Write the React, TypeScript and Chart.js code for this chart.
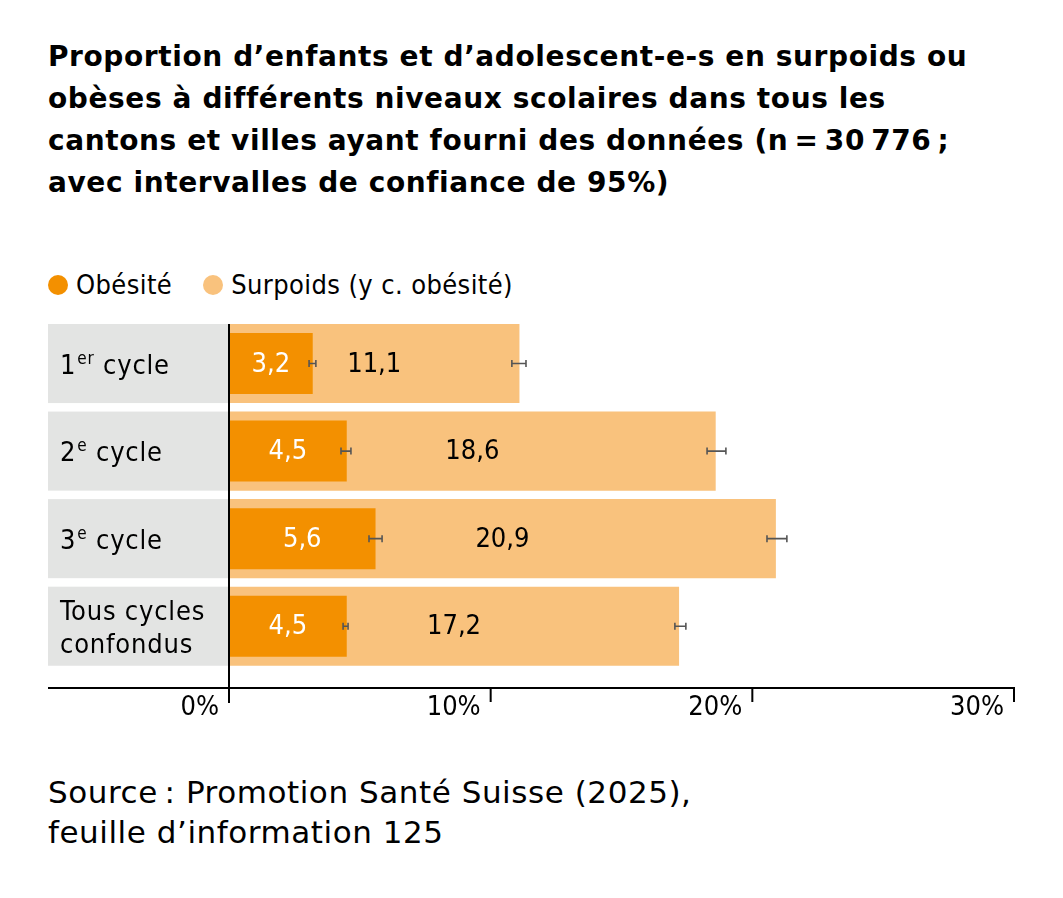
import React, { useEffect, useRef } from "react";
import { Chart, registerables } from "chart.js";

Chart.register(...registerables);

// ---------- data ----------
const categories = ["1er cycle", "2e cycle", "3e cycle", "Tous cycles confondus"];
// label segments: "^" prefix = superscript; each inner array = one line
const categoryLabels: string[][][] = [
  [["1", "^er", " cycle"]],
  [["2", "^e", " cycle"]],
  [["3", "^e", " cycle"]],
  [["Tous cycles"], ["confondus"]],
];
const obesity = [3.2, 4.5, 5.6, 4.5];
const overweight = [11.1, 18.6, 20.9, 17.2];
const obesityLow = [3.06, 4.28, 5.35, 4.36];
const obesityHigh = [3.32, 4.66, 5.85, 4.55];
const overweightLow = [10.81, 18.27, 20.56, 17.04];
const overweightHigh = [11.35, 18.99, 21.32, 17.46];
const xTicks = [0, 10, 20, 30];
const seriesNames = ["Obésité", "Surpoids (y c. obésité)"];

const titleLines = [
  "Proportion d’enfants et d’adolescent-e-s en surpoids ou",
  "obèses à différents niveaux scolaires dans tous les",
  "cantons et villes ayant fourni des données (n\u2009=\u200930\u2009776\u2009;",
  "avec intervalles de confiance de 95%)",
];
const sourceLines = ["Source\u2009: Promotion Santé Suisse (2025),", "feuille d’information 125"];

// ---------- styles ----------
const FONT = "'DejaVu Sans Condensed', 'DejaVu Sans', sans-serif";
const FONT_WIDE = "'DejaVu Sans', sans-serif";
const C_OBESE = "#F39000";
const C_OVER = "#F9C27D";
const C_GRAY = "#E3E4E3";
const C_ERR = "#555555";

const fmt = (v: number) => v.toFixed(1).replace(".", ",");

const overlayPlugin = {
  id: "overlay",
  beforeDatasetsDraw(chart: any) {
    const { ctx, chartArea } = chart;
    const x = chart.scales.x;
    const metaOver = chart.getDatasetMeta(1);
    ctx.save();
    ctx.fillStyle = C_GRAY;
    const left = chartArea.left - 181;
    metaOver.data.forEach((bar: any) => {
      const h = bar.height;
      ctx.fillRect(left, bar.y - h / 2, x.getPixelForValue(0) - left, h);
    });
    ctx.restore();
  },
  afterDatasetsDraw(chart: any) {
    const { ctx, chartArea } = chart;
    const x = chart.scales.x;
    const metaOb = chart.getDatasetMeta(0);
    const metaOver = chart.getDatasetMeta(1);
    const x0 = x.getPixelForValue(0);
    ctx.save();

    // error bars
    const drawErr = (lo: number, hi: number, y: number) => {
      const a = x.getPixelForValue(lo);
      const b = x.getPixelForValue(hi);
      ctx.strokeStyle = C_ERR;
      ctx.lineWidth = 1.6;
      ctx.beginPath();
      ctx.moveTo(a, y);
      ctx.lineTo(b, y);
      ctx.moveTo(a, y - 3.5);
      ctx.lineTo(a, y + 3.5);
      ctx.moveTo(b, y - 3.5);
      ctx.lineTo(b, y + 3.5);
      ctx.stroke();
    };
    metaOb.data.forEach((bar: any, i: number) => drawErr(obesityLow[i], obesityHigh[i], bar.y));
    metaOver.data.forEach((bar: any, i: number) => drawErr(overweightLow[i], overweightHigh[i], bar.y));

    // value labels
    ctx.font = `27px ${FONT}`;
    ctx.textAlign = "center";
    ctx.textBaseline = "middle";
    metaOb.data.forEach((bar: any, i: number) => {
      ctx.fillStyle = "#ffffff";
      ctx.fillText(fmt(obesity[i]), (x0 + bar.x) / 2, bar.y + 1);
    });
    metaOver.data.forEach((bar: any, i: number) => {
      ctx.fillStyle = "#000000";
      ctx.fillText(fmt(overweight[i]), (x0 + bar.x) / 2, bar.y + 1);
    });

    // category labels
    ctx.textAlign = "left";
    ctx.textBaseline = "alphabetic";
    ctx.fillStyle = "#000000";
    (ctx as any).letterSpacing = "0.8px";
    const labelX = chartArea.left - 169;
    metaOver.data.forEach((bar: any, i: number) => {
      const lines = categoryLabels[i];
      const lh = 33;
      const firstBase = bar.y + 10 - ((lines.length - 1) * lh) / 2;
      lines.forEach((segs, li) => {
        let cx = labelX;
        const by = firstBase + li * lh;
        segs.forEach((s) => {
          if (s.startsWith("^")) {
            ctx.font = `17px ${FONT}`;
            const t = s.slice(1);
            ctx.fillText(t, cx + 1, by - 10);
            cx += ctx.measureText(t).width + 1;
          } else {
            ctx.font = `27px ${FONT}`;
            ctx.fillText(s, cx, by);
            cx += ctx.measureText(s).width;
          }
        });
      });
    });
    (ctx as any).letterSpacing = "0px";

    // axis line, ticks, zero line
    const axisY = chartArea.bottom + 18;
    ctx.strokeStyle = "#000000";
    ctx.lineWidth = 2;
    ctx.beginPath();
    ctx.moveTo(chartArea.left - 181, axisY);
    ctx.lineTo(x.getPixelForValue(30) + 1, axisY);
    xTicks.forEach((v) => {
      if (v === 0) return;
      const px = x.getPixelForValue(v);
      ctx.moveTo(px, axisY - 1);
      ctx.lineTo(px, axisY + 14);
    });
    const firstBar = metaOver.data[0];
    ctx.moveTo(x0, firstBar.y - firstBar.height / 2);
    ctx.lineTo(x0, axisY + 15);
    ctx.stroke();
    ctx.restore();
  },
};

export default function App() {
  const canvasRef = useRef<HTMLCanvasElement | null>(null);

  useEffect(() => {
    if (!canvasRef.current) return;
    const chart = new Chart(canvasRef.current, {
      type: "bar",
      data: {
        labels: categories,
        datasets: [
          {
            label: seriesNames[0],
            data: obesity,
            backgroundColor: C_OBESE,
            barPercentage: 0.697,
            categoryPercentage: 1,
            grouped: false,
          } as any,
          {
            label: seriesNames[1],
            data: overweight,
            backgroundColor: C_OVER,
            barPercentage: 0.903,
            categoryPercentage: 1,
            grouped: false,
          } as any,
        ],
      },
      options: {
        indexAxis: "y",
        animation: false,
        responsive: true,
        maintainAspectRatio: false,
        devicePixelRatio: 1,
        layout: { padding: { left: 221, right: 41, top: 19.75, bottom: 0 } },
        plugins: { legend: { display: false }, tooltip: { enabled: false } },
        scales: {
          x: {
            min: 0,
            max: 30,
            afterBuildTicks: (s: any) => {
              s.ticks = xTicks.map((v) => ({ value: v }));
            },
            afterFit: (s: any) => {
              s.height = 70;
            },
            grid: { display: false, drawTicks: false },
            border: { display: false },
            ticks: {
              align: "end",
              labelOffset: -10,
              padding: 22,
              color: "#000000",
              font: { family: FONT, size: 27 },
              callback: (v: any) => `${v}%`,
            },
          },
          y: { display: false },
        },
      },
      plugins: [overlayPlugin],
    });
    return () => chart.destroy();
  }, []);

  return (
    <div style={{ position: "relative", width: 1047, height: 882, fontFamily: FONT, color: "#000" }}>
      <div
        style={{
          position: "absolute",
          left: 40,
          top: 28.3,
          fontFamily: FONT_WIDE,
          fontSize: 28,
          fontWeight: "bold",
          lineHeight: "42px",
          letterSpacing: "0.6px",
          whiteSpace: "nowrap",
        }}
      >
        {titleLines.map((l, i) => (
          <div key={i}>{l}</div>
        ))}
      </div>
      <div
        style={{
          position: "absolute",
          left: 40,
          top: 262,
          height: 30,
          display: "flex",
          alignItems: "center",
          fontSize: 27,
          lineHeight: "30px",
          letterSpacing: "0.4px",
          whiteSpace: "nowrap",
        }}
      >
        {seriesNames.map((n, i) => (
          <div key={i} style={{ display: "flex", alignItems: "center", marginRight: 31 }}>
            <span
              style={{
                display: "inline-block",
                width: 20,
                height: 20,
                borderRadius: 10,
                background: i === 0 ? C_OBESE : C_OVER,
                marginRight: 8,
              }}
            />
            <span>{n}</span>
          </div>
        ))}
      </div>
      <div style={{ position: "absolute", left: 0, top: 292, width: 1047, height: 440 }}>
        <canvas ref={canvasRef} />
      </div>
      <div
        style={{
          position: "absolute",
          left: 40,
          top: 764,
          fontFamily: FONT_WIDE,
          fontSize: 31,
          lineHeight: "40px",
          letterSpacing: "0.55px",
          whiteSpace: "nowrap",
        }}
      >
        {sourceLines.map((l, i) => (
          <div key={i}>{l}</div>
        ))}
      </div>
    </div>
  );
}
